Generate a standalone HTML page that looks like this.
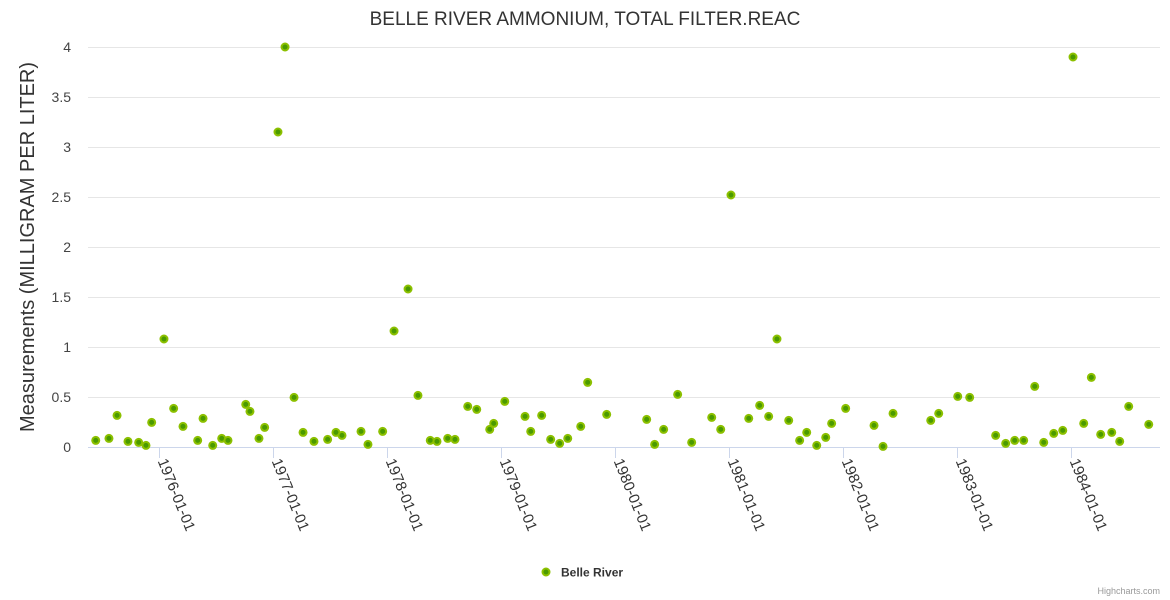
<!DOCTYPE html>
<html><head><meta charset="utf-8"><style>
body{margin:0;background:#fff;}
svg{display:block;font-family:"Liberation Sans",sans-serif;}
</style></head><body>
<svg id="chart" width="1170" height="600">
<text x="585" y="25" text-anchor="middle" font-size="19" fill="#333">BELLE RIVER AMMONIUM, TOTAL FILTER.REAC</text>
<text transform="translate(34,247) rotate(-90)" text-anchor="middle" font-size="20" fill="#333">Measurements (MILLIGRAM PER LITER)</text>
<g id="grid"></g><g id="xaxis"></g><g id="yaxis"></g><g id="points"></g>
<g>
<circle cx="546" cy="572" r="3.5" fill="#4a9a00" stroke="#8cc000" stroke-width="2"/>
<text x="561" y="576.5" font-size="12" font-weight="bold" fill="#333">Belle River</text>
</g>
<text x="1160" y="594" text-anchor="end" font-size="9" fill="#999">Highcharts.com</text>
</svg>
<script>
const dates=[1975.442,1975.558,1975.629,1975.725,1975.819,1975.883,1975.933,1976.041,1976.126,1976.208,1976.337,1976.384,1976.469,1976.548,1976.603,1976.759,1976.796,1976.875,1976.925,1977.042,1977.104,1977.183,1977.262,1977.358,1977.478,1977.551,1977.604,1977.771,1977.832,1977.961,1978.061,1978.184,1978.271,1978.379,1978.438,1978.532,1978.596,1978.708,1978.787,1978.901,1978.936,1979.033,1979.211,1979.261,1979.357,1979.436,1979.515,1979.586,1979.700,1979.761,1979.928,1980.279,1980.349,1980.428,1980.551,1980.674,1980.850,1980.929,1981.019,1981.175,1981.271,1981.350,1981.423,1981.526,1981.622,1981.684,1981.772,1981.851,1981.903,1982.026,1982.275,1982.354,1982.442,1982.773,1982.843,1983.010,1983.115,1983.343,1983.431,1983.510,1983.589,1983.686,1983.765,1983.853,1983.932,1984.022,1984.116,1984.183,1984.265,1984.362,1984.432,1984.511,1984.687];
const values=[0.066,0.086,0.316,0.056,0.046,0.016,0.246,1.08,0.386,0.206,0.066,0.286,0.016,0.086,0.066,0.426,0.356,0.086,0.196,3.15,4.0,0.496,0.146,0.056,0.076,0.146,0.116,0.156,0.026,0.156,1.16,1.58,0.516,0.066,0.056,0.086,0.076,0.406,0.376,0.176,0.236,0.456,0.306,0.156,0.316,0.076,0.036,0.086,0.206,0.646,0.326,0.276,0.026,0.176,0.526,0.046,0.296,0.176,2.52,0.286,0.416,0.306,1.08,0.266,0.066,0.146,0.016,0.096,0.236,0.386,0.216,0.006,0.336,0.266,0.336,0.506,0.496,0.116,0.036,0.066,0.066,0.606,0.046,0.136,0.166,3.9,0.236,0.696,0.126,0.146,0.056,0.406,0.226];
const yTicks=[0,0.5,1,1.5,2,2.5,3,3.5,4];
const xTickYears=[1976,1977,1978,1979,1980,1981,1982,1983,1984];
const xTickLabels=["1976-01-01","1977-01-01","1978-01-01","1979-01-01","1980-01-01","1981-01-01","1982-01-01","1983-01-01","1984-01-01"];
const NS="http://www.w3.org/2000/svg";
const L=88,R=1160;
function xS(t){return 159.3+(t-1976)*113.9;}
function yS(v){return 447-v*100;}
function mk(tag,attrs,parent){const e=document.createElementNS(NS,tag);for(const k in attrs)e.setAttribute(k,attrs[k]);parent.appendChild(e);return e;}
const grid=document.getElementById('grid'),ya=document.getElementById('yaxis'),xa=document.getElementById('xaxis'),pts=document.getElementById('points');
yTicks.forEach(v=>{
  if(v>0){const g=mk('line',{x1:L,x2:R,y1:yS(v)+0.5,y2:yS(v)+0.5,stroke:'#e6e6e6'},grid);
  
  }
  const t=mk('text',{x:71,y:yS(v)+5,'text-anchor':'end','font-size':'14',fill:'#444'},ya);
  t.textContent=String(v);
  
  
});
const ax=mk('line',{x1:L,x2:R,y1:447.5,y2:447.5,stroke:'#ccd6eb'},xa);


xTickYears.forEach((yr,i)=>{
  const x=Math.round(xS(yr))+0.5;
  const tk=mk('line',{x1:x,x2:x,y1:447,y2:458,stroke:'#ccd6eb'},xa);
  
  
  const t=mk('text',{transform:'translate('+(x-2)+',461) rotate(68)','font-size':'15',fill:'#333'},xa);
  t.textContent=xTickLabels[i];
  
  
});
dates.forEach((d,i)=>{
  const c=mk('circle',{cx:xS(d),cy:yS(values[i]),r:3.5,fill:'#4a9a00',stroke:'#8cc000','stroke-width':2},pts);
  
  
});
</script>
</body></html>
